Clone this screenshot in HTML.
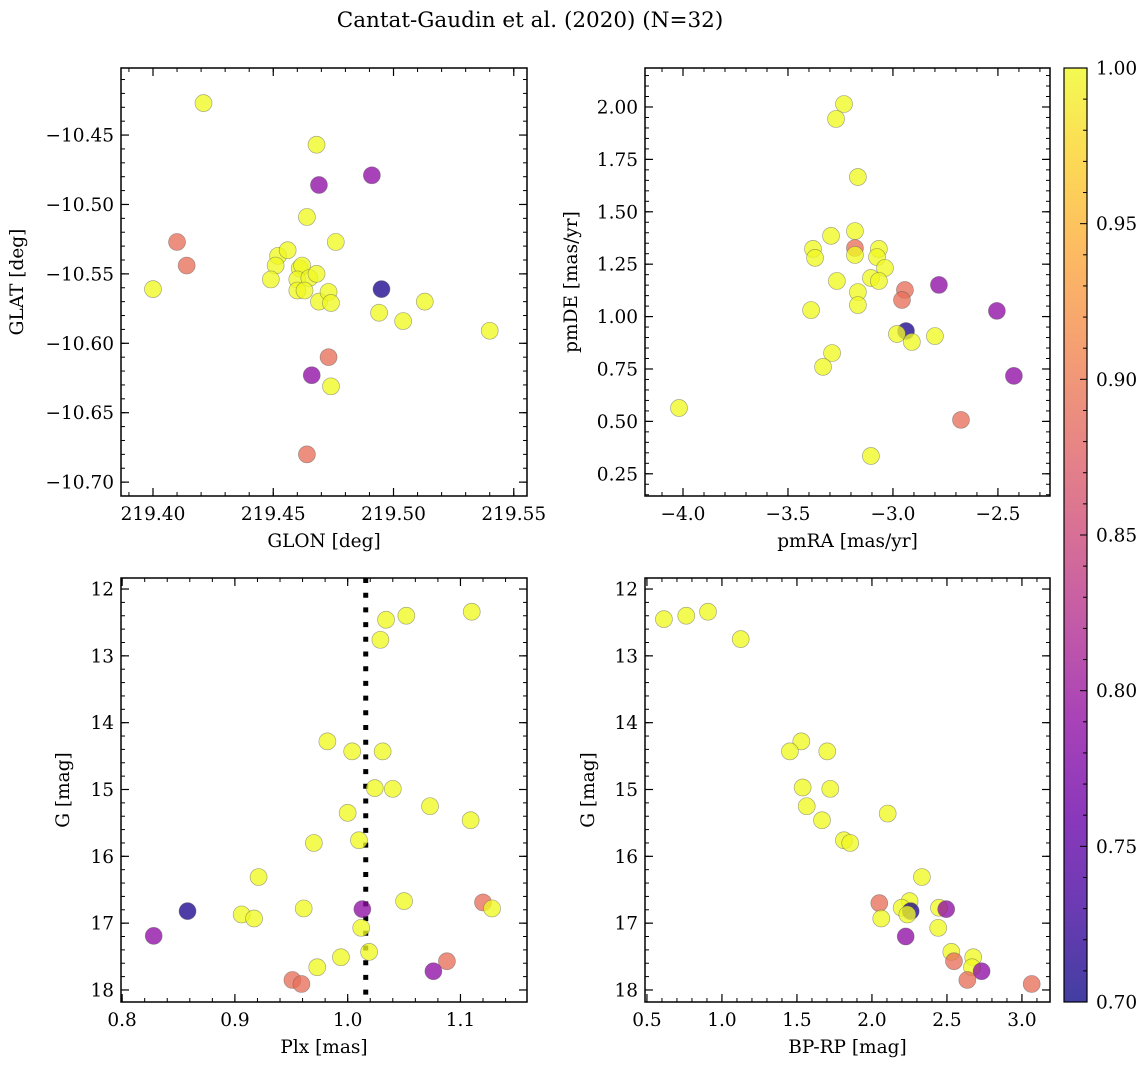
<!DOCTYPE html>
<html><head><meta charset="utf-8">
<style>
html,body{margin:0;padding:0;background:#fff;}
svg{display:block;font-family:"DejaVu Serif","Liberation Serif",serif;}
</style></head>
<body>
<svg id="fig" width="1148" height="1068" xmlns="http://www.w3.org/2000/svg">
<text x="530" y="27" text-anchor="middle" font-size="21.5">Cantat-Gaudin et al. (2020) (N=32)</text>
</svg>
<script>
// Panel 1: GLON vs GLAT
const glon=[219.421,219.468,219.469,219.491,219.464,219.476,219.410,219.414,219.400,219.452,219.456,219.451,219.449,219.461,219.462,219.460,219.465,219.468,219.460,219.463,219.469,219.473,219.474,219.495,219.494,219.504,219.513,219.540,219.473,219.466,219.474,219.464];
const glat=[-10.427,-10.457,-10.486,-10.479,-10.509,-10.527,-10.527,-10.544,-10.561,-10.537,-10.533,-10.544,-10.554,-10.546,-10.544,-10.554,-10.553,-10.550,-10.562,-10.562,-10.570,-10.563,-10.571,-10.561,-10.578,-10.584,-10.570,-10.591,-10.610,-10.623,-10.631,-10.680];
const prob1=[1,1,0.79,0.79,1,1,0.89,0.89,1,1,1,1,1,1,1,1,1,1,1,1,1,1,1,0.71,1,1,1,1,0.89,0.79,1,0.89];
// Panel 2: pmRA vs pmDE
const pmra=[-3.233,-3.271,-3.167,-3.181,-3.295,-3.381,-3.371,-3.181,-3.181,-3.067,-3.076,-3.038,-3.267,-3.105,-3.067,-3.167,-3.167,-3.390,-2.943,-2.957,-2.781,-2.505,-2.938,-2.981,-2.910,-2.800,-3.290,-3.333,-2.424,-2.676,-4.019,-3.105];
const pmde=[2.014,1.943,1.666,1.408,1.385,1.323,1.280,1.327,1.294,1.323,1.284,1.232,1.170,1.184,1.170,1.117,1.055,1.031,1.127,1.079,1.151,1.027,0.931,0.917,0.879,0.907,0.826,0.760,0.717,0.507,0.564,0.335];
const prob2=[1,1,1,1,1,1,1,0.89,1,1,1,1,1,1,1,1,1,1,0.89,0.89,0.79,0.79,0.71,1,1,1,1,1,0.79,0.89,1,1];
// Panel 3: Plx vs G
const plx=[1.110,1.052,1.034,1.029,0.982,1.004,1.031,1.024,1.040,1.073,1.000,1.109,0.970,1.010,0.921,1.050,0.961,1.120,1.128,1.013,0.858,0.906,0.917,0.828,1.012,1.019,0.994,0.973,1.088,1.076,0.951,0.959];
const gmag3=[12.34,12.40,12.46,12.76,14.28,14.43,14.43,14.98,14.99,15.25,15.35,15.46,15.80,15.76,16.31,16.67,16.78,16.69,16.78,16.79,16.82,16.87,16.93,17.19,17.07,17.43,17.51,17.66,17.57,17.72,17.85,17.91];
const prob3=[1,1,1,1,1,1,1,1,1,1,1,1,1,1,1,1,1,0.89,1,0.79,0.71,1,1,0.79,1,1,1,1,0.89,0.79,0.89,0.89];
const plxMean=1.016;
// Panel 4: BP-RP vs G
const bprp=[0.613,0.762,0.907,1.125,1.529,1.453,1.702,1.538,1.722,1.565,1.667,2.105,1.813,1.855,2.333,2.049,2.251,2.198,2.258,2.236,2.447,2.495,2.062,2.442,2.225,2.529,2.547,2.675,2.667,2.731,2.636,3.065];
const gmag4=[12.45,12.40,12.34,12.75,14.28,14.43,14.43,14.97,14.99,15.25,15.46,15.36,15.76,15.80,16.31,16.70,16.67,16.77,16.82,16.87,16.77,16.79,16.93,17.07,17.20,17.43,17.57,17.51,17.66,17.72,17.85,17.91];
const prob4=[1,1,1,1,1,1,1,1,1,1,1,1,1,1,1,0.89,1,1,0.71,1,1,0.79,1,1,0.79,1,0.89,1,1,0.79,0.89,0.89];
// Colorbar ticks
const cbTicks=[0.70,0.75,0.80,0.85,0.90,0.95,1.00];

const NS="http://www.w3.org/2000/svg";
const svg=document.getElementById('fig');
const FS=18.5;
function mk(tag,attrs,parent){const e=document.createElementNS(NS,tag);for(const k in attrs)e.setAttribute(k,attrs[k]);(parent||svg).appendChild(e);return e;}
const stops=[[0,'#0d0887'],[0.1,'#41049d'],[0.2,'#6a00a8'],[0.3,'#8f0da4'],[0.4,'#b12a90'],[0.5,'#cc4778'],[0.6,'#e16462'],[0.7,'#f2844b'],[0.8,'#fca636'],[0.9,'#fcce25'],[1,'#f0f921']];
function hex(h){return [1,3,5].map(i=>parseInt(h.substr(i,2),16));}
function plasma(t){t=Math.max(0,Math.min(1,t));for(let i=1;i<stops.length;i++){if(t<=stops[i][0]){const a=stops[i-1],b=stops[i];const f=(t-a[0])/(b[0]-a[0]);const ca=hex(a[1]),cb=hex(b[1]);return 'rgb('+ca.map((v,j)=>Math.round(v+(cb[j]-v)*f)).join(',')+')';}}return stops[stops.length-1][1];}
function cmap(p){return plasma((p-0.7)/0.3);}
const minus=s=>s.replace('-','\u2212');

function panel(cfg){
  const {x0,y0,x1,y1,xmin,xmax,ymin,ymax,invY,xMaj,xMin,yMaj,yMin,xfmt,yfmt,xlabel,ylabel,name}=cfg;
  const sx=v=>x0+(v-xmin)/(xmax-xmin)*(x1-x0);
  const sy=v=>invY? y0+(v-ymin)/(ymax-ymin)*(y1-y0) : y1-(v-ymin)/(ymax-ymin)*(y1-y0);
  const g=mk('g',{});
  
  
  const ticks=(lo,hi,step)=>{const r=[];const s=Math.ceil(lo/step-1e-6);for(let k=s;k*step<=hi+1e-9;k++)r.push(+(k*step).toFixed(6));return r;};
  ticks(xmin,xmax,xMin).forEach(v=>{const x=sx(v);mk('line',{x1:x,x2:x,y1:y1,y2:y1-4,stroke:'#000','stroke-width':1},g);mk('line',{x1:x,x2:x,y1:y0,y2:y0+4,stroke:'#000','stroke-width':1},g);});
  ticks(ymin,ymax,yMin).forEach(v=>{const y=sy(v);mk('line',{x1:x0,x2:x0+4,y1:y,y2:y,stroke:'#000','stroke-width':1},g);mk('line',{x1:x1,x2:x1-4,y1:y,y2:y,stroke:'#000','stroke-width':1},g);});
  const xt=mk('g',{},g);
  ticks(xmin,xmax,xMaj).forEach(v=>{const x=sx(v);mk('line',{x1:x,x2:x,y1:y1,y2:y1-8,stroke:'#000','stroke-width':1.2},xt);mk('line',{x1:x,x2:x,y1:y0,y2:y0+8,stroke:'#000','stroke-width':1.2},xt);const t=mk('text',{x:x,y:y1+24,'text-anchor':'middle','font-size':FS},xt);t.textContent=minus(xfmt(v));});
  const yt=mk('g',{},g);
  ticks(ymin,ymax,yMaj).forEach(v=>{const y=sy(v);mk('line',{x1:x0,x2:x0+8,y1:y,y2:y,stroke:'#000','stroke-width':1.2},yt);mk('line',{x1:x1,x2:x1-8,y1:y,y2:y,stroke:'#000','stroke-width':1.2},yt);const t=mk('text',{x:x0-7,y:y+6.5,'text-anchor':'end','font-size':FS},yt);t.textContent=minus(yfmt(v));});
  const xl=mk('text',{x:(x0+x1)/2,y:y1+51,'text-anchor':'middle','font-size':FS},g);xl.textContent=xlabel;
  
  
  const cy=(y0+y1)/2;
  const yl=mk('text',{x:0,y:0,'text-anchor':'middle','font-size':FS,transform:`translate(${cfg.ylx},${cy}) rotate(-90)`},g);yl.textContent=ylabel;
  
  
  return {g,sx,sy,frame:()=>{const r=mk('rect',{x:x0,y:y0,width:x1-x0,height:y1-y0,fill:'none',stroke:'#000','stroke-width':1.5},g);}};
}
function scatter(p,xs,ys,ps,name){
  const grp=mk('g',{},p.g);
  
  
  xs.forEach((v,i)=>{
    const c=mk('circle',{cx:p.sx(v),cy:p.sy(ys[i]),r:8.5,fill:cmap(ps[i]),'fill-opacity':0.78,stroke:'#555','stroke-opacity':0.5,'stroke-width':0.7},grp);
    
    
  });
}
const f2=v=>v.toFixed(2), f1=v=>v.toFixed(1), f0=v=>v.toFixed(0);

const p1=panel({x0:121,y0:68,x1:527,y1:496,xmin:219.3867,xmax:219.5555,ymin:-10.710,ymax:-10.4017,xMaj:0.05,xMin:0.01,yMaj:0.05,yMin:0.01,xfmt:f2,yfmt:f2,xlabel:'GLON [deg]',ylabel:'GLAT [deg]',name:'position-panel',ylx:23});
scatter(p1,glon,glat,prob1,'position-points');p1.frame();

const p2=panel({x0:645,y0:68,x1:1050,y1:496,xmin:-4.181,xmax:-2.252,ymin:0.144,ymax:2.186,xMaj:0.5,xMin:0.1,yMaj:0.25,yMin:0.05,xfmt:f1,yfmt:f2,xlabel:'pmRA [mas/yr]',ylabel:'pmDE [mas/yr]',name:'proper-motion-panel',ylx:577});
scatter(p2,pmra,pmde,prob2,'proper-motion-points');p2.frame();

const p3=panel({x0:121,y0:578,x1:527,y1:1002,xmin:0.799,xmax:1.159,ymin:11.835,ymax:18.18,invY:true,xMaj:0.1,xMin:0.02,yMaj:1,yMin:0.2,xfmt:f1,yfmt:f0,xlabel:'Plx [mas]',ylabel:'G [mag]',name:'parallax-panel',ylx:69});
const mx=p3.sx(plxMean);
const ml=mk('line',{x1:mx,x2:mx,y1:578,y2:1002,stroke:'#000','stroke-width':5,'stroke-dasharray':'5 9.7'},p3.g);


scatter(p3,plx,gmag3,prob3,'parallax-points');p3.frame();

const p4=panel({x0:645,y0:578,x1:1050,y1:1002,xmin:0.487,xmax:3.187,ymin:11.835,ymax:18.18,invY:true,xMaj:0.5,xMin:0.1,yMaj:1,yMin:0.2,xfmt:f1,yfmt:f0,xlabel:'BP-RP [mag]',ylabel:'G [mag]',name:'cmd-panel',ylx:594});
scatter(p4,bprp,gmag4,prob4,'cmd-points');p4.frame();

// colorbar
const cb=mk('g',{});


const defs=mk('defs',{},svg);
const lg=mk('linearGradient',{id:'cbg',x1:0,y1:1,x2:0,y2:0},defs);
stops.forEach(s=>mk('stop',{offset:s[0],'stop-color':s[1],'stop-opacity':0.78},lg));
const cbx0=1064,cbx1=1087,cby0=68,cby1=1002;
mk('rect',{x:cbx0,y:cby0,width:cbx1-cbx0,height:cby1-cby0,fill:'url(#cbg)',stroke:'#000','stroke-width':1.2},cb);
const cs=v=>cby1-(v-0.7)/0.3*(cby1-cby0);
for(let k=70;k<=100;k++){const y=cs(k/100);const maj=k%5===0;mk('line',{x1:cbx1,x2:cbx1-(maj?7:4),y1:y,y2:y,stroke:'#000','stroke-width':1},cb);}
cbTicks.forEach(v=>{const t=mk('text',{x:1096,y:cs(v)+6.5,'font-size':FS},cb);t.textContent=v.toFixed(2);});
</script>
</body></html>
